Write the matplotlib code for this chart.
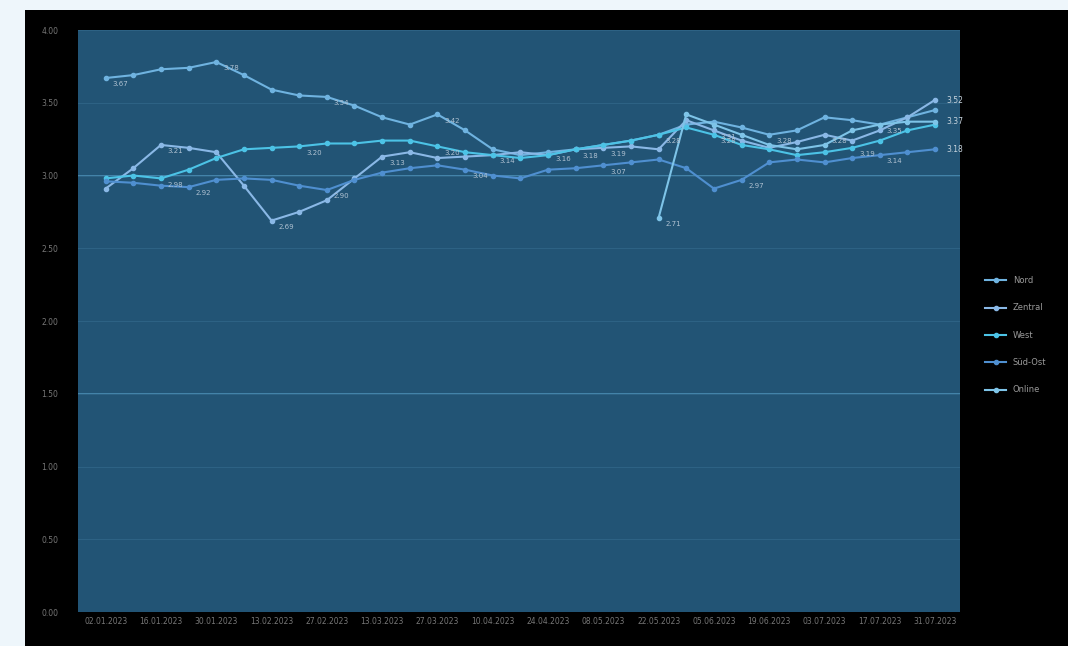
import numpy as np
import matplotlib.pyplot as plt
from matplotlib.patches import Rectangle

weeks = ['02.01.2023', '09.01.2023', '16.01.2023', '23.01.2023', '30.01.2023', '06.02.2023',
         '13.02.2023', '20.02.2023', '27.02.2023', '06.03.2023', '13.03.2023', '20.03.2023',
         '27.03.2023', '03.04.2023', '10.04.2023', '17.04.2023', '24.04.2023', '01.05.2023',
         '08.05.2023', '15.05.2023', '22.05.2023', '29.05.2023', '05.06.2023', '12.06.2023',
         '19.06.2023', '26.06.2023', '03.07.2023', '10.07.2023', '17.07.2023', '24.07.2023',
         '31.07.2023']

names = ['Nord', 'Zentral', 'West', 'Süd-Ost', 'Online']

nord = [3.67, 3.69, 3.73, 3.74, 3.78, 3.69, 3.59, 3.55, 3.54, 3.48, 3.40, 3.35, 3.42, 3.31, 3.18,
        3.14, 3.16, 3.18, 3.21, 3.24, 3.28, 3.35, 3.37, 3.33, 3.28, 3.31, 3.40, 3.38, 3.35, 3.40, 3.45]
zentral = [2.91, 3.05, 3.21, 3.19, 3.16, 2.93, 2.69, 2.75, 2.83, 2.98, 3.13, 3.16, 3.12, 3.13, 3.14,
           3.16, 3.14, 3.18, 3.19, 3.20, 3.18, 3.38, 3.31, 3.24, 3.19, 3.23, 3.28, 3.24, 3.31, 3.40, 3.52]
west = [2.98, 3.00, 2.98, 3.04, 3.12, 3.18, 3.19, 3.20, 3.22, 3.22, 3.24, 3.24, 3.20, 3.16, 3.14,
        3.12, 3.14, 3.18, 3.21, 3.24, 3.28, 3.33, 3.28, 3.21, 3.18, 3.14, 3.16, 3.19, 3.24, 3.31, 3.35]
suedost = [2.96, 2.95, 2.93, 2.92, 2.97, 2.98, 2.97, 2.93, 2.90, 2.97, 3.02, 3.05, 3.07, 3.04, 3.00,
           2.98, 3.04, 3.05, 3.07, 3.09, 3.11, 3.05, 2.91, 2.97, 3.09, 3.11, 3.09, 3.12, 3.14, 3.16, 3.18]
online = [np.nan] * 20 + [2.71, 3.42, 3.35, 3.28, 3.21, 3.18, 3.21, 3.31, 3.35, 3.37, 3.37]

series = [nord, zentral, west, suedost, online]
colors = ['#6fb3e0', '#8ab8e6', '#4cc3e6', '#4f8fd0', '#7ec4e8']
label_every = [(0, 4), (2, 4), (2, 5), (3, 5), (0, 10)]
end_label = [False, True, False, True, True]

fig = plt.figure(figsize=(10.68, 6.46), dpi=100, facecolor='#eef6fb')
fig.patches.append(Rectangle((25 / 1068, 0), 1, 1 - 10 / 646, transform=fig.transFigure,
                             facecolor='black', zorder=-10))
ax = fig.add_axes([78 / 1068, 34 / 646, 882 / 1068, 582 / 646])
ax.set_facecolor('#225475')

x = np.arange(len(weeks))
for vals, name, col, (start, step), endl in zip(series, names, colors, label_every, end_label):
    ax.plot(x, vals, color=col, lw=1.5, marker='o', ms=3, label=name, zorder=3)
    first = next(k for k, v in enumerate(vals) if not np.isnan(v))
    for i, v in enumerate(vals):
        if np.isnan(v):
            continue
        if i == len(vals) - 1:
            if endl:
                ax.annotate(f'{v:.2f}', (i, v), xytext=(8, -2), textcoords='offset points',
                            fontsize=5.5, color='#c8d4de', zorder=4)
        elif (i == first and first > 0) or (i >= start and (i - start) % step == 0):
            ax.annotate(f'{v:.2f}', (i, v), xytext=(5, -6), textcoords='offset points',
                        fontsize=5, color='#b0c2d2', zorder=4)

ax.axhline(3.0, color='#4d8fb8', lw=1.2, zorder=1)
ax.axhline(1.5, color='#4d8fb8', lw=1.2, zorder=1)

ax.set_ylim(0, 4)
ax.set_yticks(np.arange(0, 4.01, 0.5))
ax.yaxis.set_major_formatter(plt.FuncFormatter(lambda v, p: f'{v:.2f}'))
ax.set_xlim(-1, 30.9)
ax.set_xticks(x[::2])
ax.set_xticklabels(weeks[::2])
ax.tick_params(axis='both', colors='#777777', labelsize=5.5, length=0)
ax.tick_params(axis='y', pad=14)
ax.grid(axis='y', color='#2d6284', lw=0.8, zorder=0)
for s in ax.spines.values():
    s.set_visible(False)

leg = ax.legend(loc='upper left', bbox_to_anchor=(1.02, 0.59), frameon=False,
                fontsize=6, labelcolor='#9a9a9a', handlelength=2.5, labelspacing=2.2)

fig.savefig('out.png', dpi=100, facecolor=fig.get_facecolor())
